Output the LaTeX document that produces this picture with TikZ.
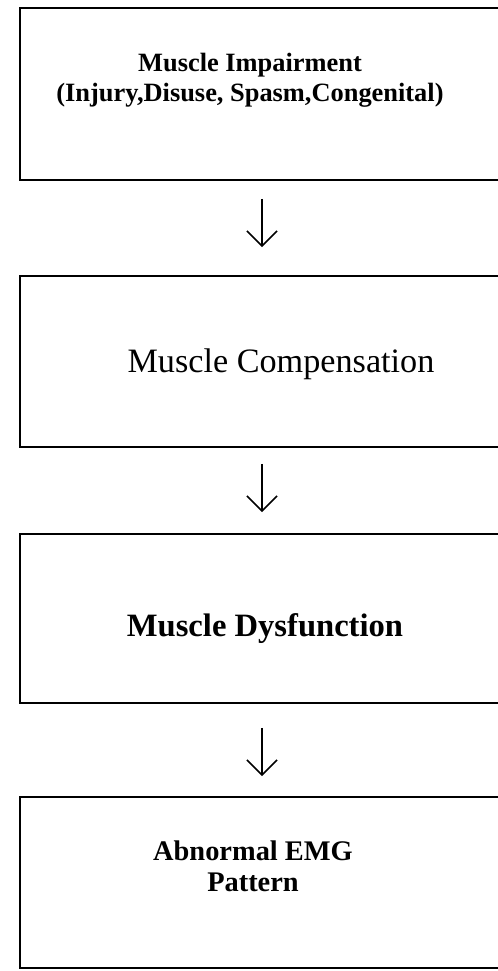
\documentclass[tikz,border=0pt]{standalone}
\usepackage{fontspec}
\setmainfont{Liberation Serif}
\usepackage{tikz}
\usetikzlibrary{arrows.meta, positioning}
\tikzset{
  box/.style={rectangle, draw=black, line width=0.9pt, minimum width=242pt, minimum height=85pt, inner sep=0pt},
  boxtext/.style={align=center, inner sep=0pt},
  arrow/.style={-{Straight Barb[length=7.5pt, width=15pt, line width=0.8pt]}, line width=0.8pt},
}

\begin{document}
\begin{tikzpicture}[x=0.5pt, y=-0.5pt]
  \useasboundingbox (0,0) rectangle (498,971);
  \clip (0,0) rectangle (498,971);
  % Boxes
  \node[box, minimum height=86pt] (impairment) at (262,94) {};
  \node[box, minimum height=85.5pt] (compensation) at (262,361.5) {};
  \node[box, minimum height=84.5pt] (dysfunction) at (262,618.5) {};
  \node[box, minimum height=85.5pt] (emg) at (262,882.5) {};
  % Texts
  \node[boxtext, font=\fontsize{13.2}{15}\selectfont\bfseries] (impairmenttext) at (250,80)
    {Muscle Impairment\\(Injury,Disuse, Spasm,Congenital)};
  \node[boxtext, font=\fontsize{17.1}{20}\selectfont] (compensationtext) at (281,364)
    {Muscle Compensation};
  \node[boxtext, font=\fontsize{16.3}{19}\selectfont\bfseries] (dysfunctiontext) at (265,629)
    {Muscle Dysfunction};
  \node[boxtext, font=\fontsize{14.2}{15.5}\selectfont\bfseries] (emgtext) at (253,866)
    {Abnormal EMG\\Pattern};

  % Arrows between boxes
  \draw[arrow, shorten <=9pt, shorten >=14pt] (impairment) -- (compensation);
  \draw[arrow, shorten <=8pt, shorten >=10.5pt, xshift=-3pt] (compensation) -- (dysfunction);
  \draw[arrow, shorten <=12pt, shorten >=10pt] (dysfunction) -- (emg);
\end{tikzpicture}
\end{document}
